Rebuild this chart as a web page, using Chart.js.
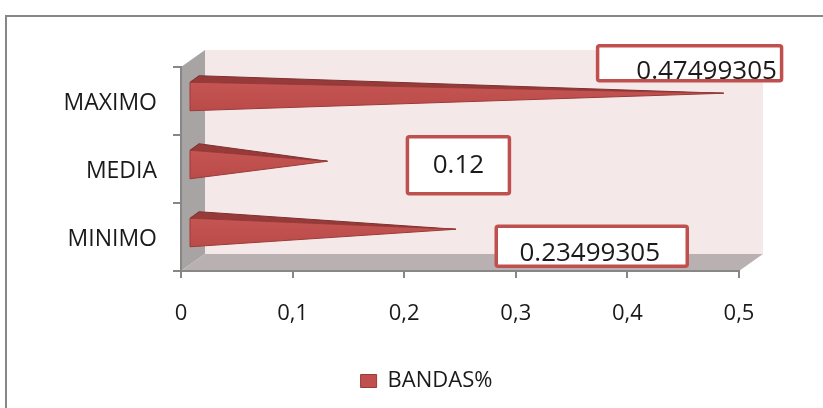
<!DOCTYPE html>
<html>
<head>
<meta charset="utf-8">
<script src="https://cdn.jsdelivr.net/npm/chart.js@4.4.1/dist/chart.umd.min.js"></script>
<style>
  html, body { margin: 0; padding: 0; background: #fff; overflow: hidden; }
  canvas { display: block; }
</style>
</head>
<body>
<canvas id="c" width="823" height="408"></canvas>
<script>
const categories = ['MAXIMO', 'MEDIA', 'MINIMO'];
const bandas = [0.47499305, 0.12, 0.23499305];
const seriesName = 'BANDAS%';
const xTickLabels = ['0', '0,1', '0,2', '0,3', '0,4', '0,5'];

// Callout boxes: offsets (px) from each cone tip, box size, text nudge
const callouts = [
  { dx: -34, dy: -30, w: 184, h: 35, tx: 17, ty: 8 },
  { dx: 131, dy: 4,   w: 102, h: 57, tx: 0,  ty: 0 },
  { dx: 136, dy: 17,  w: 191, h: 40, tx: -2, ty: 7 }
];

const FONT = "'Open Sans', 'Liberation Sans', sans-serif";
const AXIS_GRAY = '#878787';
const DEPTH = { dx: 24, dy: -17 };                    // 3D wall depth projection
const CONE = { fx: 8, fy: -4.5, bx: 9, by: -6.5 };    // cone front offset and base depth
const LEGEND_SHIFT = 57;                              // legend sits a bit right of centre

function fillPoly(ctx, pts, fill, stroke) {
  ctx.beginPath();
  pts.forEach((p, i) => (i ? ctx.lineTo(p[0], p[1]) : ctx.moveTo(p[0], p[1])));
  ctx.closePath();
  ctx.fillStyle = fill;
  ctx.fill();
  if (stroke) { ctx.strokeStyle = stroke; ctx.lineWidth = 1; ctx.stroke(); }
}

const scene3d = {
  id: 'scene3d',
  afterLayout(chart) {
    if (chart.legend) {
      chart.legend.left += LEGEND_SHIFT;
      chart.legend.right += LEGEND_SHIFT;
    }
  },
  beforeDraw(chart) {
    const { ctx, chartArea: a } = chart;
    const dx = DEPTH.dx, dy = DEPTH.dy;
    ctx.save();
    // outer frame
    ctx.strokeStyle = AXIS_GRAY;
    ctx.lineWidth = 2;
    ctx.strokeRect(6, 16, chart.width + 20, chart.height + 20);
    // back wall
    fillPoly(ctx, [[a.left + dx, a.top + dy], [a.right + dx, a.top + dy],
                   [a.right + dx, a.bottom + dy], [a.left + dx, a.bottom + dy]], '#f5e8e8');
    // side wall
    fillPoly(ctx, [[a.left, a.top], [a.left + dx, a.top + dy],
                   [a.left + dx, a.bottom + dy], [a.left, a.bottom]], '#a8a4a4');
    // floor
    fillPoly(ctx, [[a.left, a.bottom], [a.left + dx, a.bottom + dy],
                   [a.right + dx, a.bottom + dy], [a.right, a.bottom]], '#b9b1b1');
    ctx.restore();
  },
  beforeDatasetDraw() {
    return false; // bars are drawn as cones below
  },
  afterDatasetsDraw(chart) {
    const { ctx } = chart;
    const meta = chart.getDatasetMeta(0);
    const values = chart.data.datasets[0].data;
    const { fx, fy, bx, by } = CONE;
    ctx.save();
    meta.data.forEach((bar, i) => {
      const { x, y, base, height } = bar.getProps(['x', 'y', 'base', 'height'], true);
      const x0 = base + fx;
      const top = y - height / 2 + fy;
      const bot = y + height / 2 + fy;
      const apex = [x + fx + bx / 2, y + fy + by / 2];
      // upper face
      fillPoly(ctx, [[x0, top], [x0 + bx, top + by], apex], '#963b39', '#7e3130');
      // front face
      const g = ctx.createLinearGradient(0, top, 0, bot);
      g.addColorStop(0, '#c55552');
      g.addColorStop(1, '#bb4b48');
      fillPoly(ctx, [[x0, top], [x0, bot], apex], g, '#9b3b39');

      // value callout
      const c = callouts[i];
      const cx = apex[0] + c.dx, cy = apex[1] + c.dy;
      const l = cx - c.w / 2, t = cy - c.h / 2;
      ctx.beginPath();
      ctx.roundRect(l, t, c.w, c.h, 2);
      ctx.fillStyle = '#ffffff';
      ctx.fill();
      ctx.font = `26px ${FONT}`;
      ctx.fillStyle = '#1a1a1a';
      ctx.textAlign = 'center';
      ctx.textBaseline = 'middle';
      ctx.fillText(String(values[i]), cx + c.tx, cy + c.ty);
      ctx.strokeStyle = '#c0504d';
      ctx.lineWidth = 3.5;
      ctx.stroke();
    });
    ctx.restore();
  }
};

const PAD = { top: 67, right: 84, bottom: 6, left: 0 };

new Chart(document.getElementById('c'), {
  type: 'bar',
  data: {
    labels: categories,
    datasets: [{
      label: seriesName,
      data: bandas,
      backgroundColor: '#c0504d',
      borderColor: '#9b3b39',
      borderWidth: 1,
      categoryPercentage: 1,
      barPercentage: 0.42
    }]
  },
  options: {
    indexAxis: 'y',
    responsive: false,
    animation: false,
    devicePixelRatio: 1,
    layout: { padding: PAD },
    scales: {
      x: {
        min: 0,
        max: 0.5,
        afterFit(s) {
          const lh = s.chart.legend ? s.chart.legend.height : 0;
          s.height = 408 - PAD.bottom - 271 - lh;
        },
        ticks: {
          stepSize: 0.1,
          padding: 23,
          color: '#1a1a1a',
          font: { family: FONT, size: 22 },
          callback: (v, i) => xTickLabels[i]
        },
        grid: { drawOnChartArea: false, drawTicks: true, tickLength: 7, color: AXIS_GRAY, lineWidth: 2 },
        border: { display: true, color: AXIS_GRAY, width: 2 }
      },
      y: {
        afterFit(s) { s.width = 181 - PAD.left; },
        ticks: {
          padding: 16,
          labelOffset: 2,
          color: '#1a1a1a',
          font: { family: FONT, size: 23 }
        },
        grid: { drawOnChartArea: false, drawTicks: true, tickLength: 8, color: AXIS_GRAY, lineWidth: 2, offset: true },
        border: { display: true, color: AXIS_GRAY, width: 2 }
      }
    },
    plugins: {
      legend: {
        position: 'bottom',
        labels: {
          boxWidth: 16,
          boxHeight: 13,
          padding: 10,
          color: '#1a1a1a',
          font: { family: FONT, size: 22 }
        }
      },
      tooltip: { enabled: false }
    }
  },
  plugins: [scene3d]
});
</script>
</body>
</html>
